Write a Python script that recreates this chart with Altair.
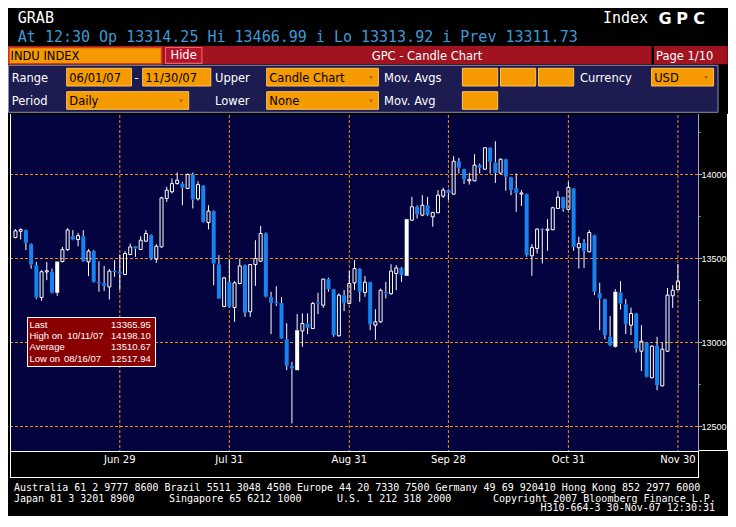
import altair as alt
import pandas as pd

# ---------------- data ----------------
opens = [13625, 13662, 13669, 13585, 13460, 13268, 13420, 13421, 13296, 13482,
         13553, 13633, 13613, 13633, 13480, 13544, 13361, 13353, 13331, 13427,
         13422, 13405, 13524, 13573, 13554, 13603, 13639, 13496, 13569, 13857,
         13897, 13946, 13946, 13917, 14000, 13855, 13933, 13714, 13782, 13466,
         13215, 13361, 13208, 13351, 13460, 13183, 13464, 13484, 13651, 13270,
         13240, 13234, 13020, 12861, 12835, 13069, 13113, 13083, 13238, 13222,
         13377, 13317, 13040, 13282, 13232, 13355, 13440, 13298, 13359, 13103,
         13123, 13300, 13290, 13411, 13444, 13397, 13728, 13808, 13758, 13817,
         13748, 13772, 13871, 13907, 13883, 14079, 14032, 13962, 13962, 14056,
         14032, 14159, 14071, 14008, 14091, 13984, 13919, 13884, 13883, 13516,
         13560, 13676, 13668, 13671, 13798, 13865, 13792, 13917, 13564, 13593,
         13540, 13639, 13294, 13258, 13034, 12974, 13298, 13228, 13103, 13173,
         12948, 13000, 12790, 12980, 12742, 12948, 13278, 13314]
highs = [13675, 13679, 13672, 13590, 13480, 13431, 13480, 13440, 13484, 13569,
         13680, 13669, 13653, 13669, 13556, 13550, 13484, 13456, 13437, 13490,
         13524, 13544, 13589, 13575, 13633, 13669, 13643, 13585, 13867, 13927,
         13976, 14012, 13956, 14006, 14012, 13960, 13937, 13817, 13786, 13520,
         13390, 13496, 13365, 13500, 13464, 13466, 13609, 13694, 13655, 13302,
         13335, 13270, 13115, 12885, 13169, 13173, 13173, 13242, 13296, 13381,
         13385, 13320, 13292, 13312, 13427, 13490, 13444, 13395, 13362, 13198,
         13321, 13361, 13466, 13460, 13450, 13736, 13867, 13817, 13877, 13867,
         13778, 13907, 13921, 13912, 14109, 14099, 14035, 14010, 14121, 14065,
         14163, 14162, 14198, 14095, 14094, 13987, 14006, 13907, 13886, 13585,
         13679, 13680, 13734, 13808, 13901, 13868, 13956, 13920, 13629, 13615,
         13669, 13642, 13355, 13261, 13157, 13317, 13365, 13258, 13208, 13176,
         13103, 13003, 12984, 13034, 13000, 13325, 13341, 13467]
lows = [13620, 13613, 13550, 13440, 13258, 13248, 13371, 13292, 13278, 13476,
        13545, 13609, 13573, 13480, 13395, 13357, 13302, 13307, 13256, 13391,
        13312, 13401, 13520, 13510, 13550, 13600, 13490, 13474, 13566, 13837,
        13887, 13940, 13817, 13913, 13798, 13845, 13714, 13673, 13341, 13258,
        13210, 13208, 13123, 13347, 13153, 13153, 13337, 13480, 13268, 13050,
        13218, 13020, 12835, 12518, 12835, 12974, 13050, 13080, 13169, 13206,
        13302, 13034, 13035, 13187, 13228, 13312, 13242, 13272, 13073, 13016,
        13118, 13262, 13285, 13312, 13361, 13397, 13726, 13738, 13752, 13752,
        13689, 13770, 13861, 13847, 13880, 14006, 13944, 13940, 13960, 14006,
        14028, 14006, 13950, 14004, 13903, 13877, 13778, 13813, 13510, 13397,
        13530, 13470, 13546, 13668, 13795, 13778, 13790, 13546, 13440, 13444,
        13537, 13282, 13073, 13020, 12978, 12970, 13196, 13050, 13044, 12940,
        12830, 12792, 12787, 12716, 12739, 12945, 13206, 13314]
closes = [13665, 13673, 13593, 13464, 13268, 13421, 13427, 13296, 13482, 13553,
          13670, 13613, 13636, 13484, 13544, 13361, 13353, 13337, 13425, 13420,
          13412, 13530, 13569, 13560, 13609, 13649, 13500, 13573, 13861, 13907,
          13946, 13966, 13921, 14000, 13851, 13940, 13718, 13782, 13470, 13262,
          13385, 13212, 13355, 13456, 13177, 13464, 13500, 13649, 13272, 13236,
          13233, 13024, 12861, 12845, 13073, 13113, 13087, 13232, 13232, 13377,
          13317, 13044, 13282, 13236, 13351, 13440, 13302, 13359, 13109, 13123,
          13311, 13292, 13425, 13444, 13401, 13734, 13808, 13764, 13817, 13758,
          13774, 13877, 13907, 13891, 14079, 14040, 13970, 13970, 14056, 14040,
          14159, 14075, 14010, 14091, 13986, 13907, 13891, 13890, 13520, 13565,
          13675, 13670, 13675, 13802, 13865, 13798, 13923, 13569, 13589, 13546,
          13655, 13302, 13262, 13044, 12984, 13302, 13232, 13109, 13173, 12964,
          13008, 12796, 12978, 12746, 12960, 13282, 13311, 13366]
solid_up = [8, 54, 75, 115]          # up days drawn as solid white bodies

tick_idx = [20, 41, 64, 83, 106, 127]  # trading-day index of the date ticks
tick_labels = ["Jun 29", "Jul 31", "Aug 31", "Sep 28", "Oct 31", "Nov 30"]
grid_prices = [12500, 13000, 13500, 14000]
minor_prices = [12750, 13250, 13750, 14250]

stats_labels = ["Last", "High on", "Average", "Low on"]
stats_dates = ["", "10/11/07", "", "08/16/07"]
stats_values = ["13365.95", "14198.10", "13510.67", "12517.94"]

quote_line = "At 12:30 Op 13314.25   Hi 13466.99 i Lo 13313.92 i Prev 13311.73"
footer_1 = "Australia 61 2 9777 8600 Brazil 5511 3048 4500  Europe 44 20 7330 7500  Germany 49 69 920410  Hong Kong 852 2977 6000"
footer_2 = ["Japan 81 3 3201 8900", "Singapore 65 6212 1000", "U.S. 1 212 318 2000",
            "Copyright 2007 Bloomberg Finance L.P."]
footer_3 = "H310-664-3 30-Nov-07 12:30:31"

# ---------------- layout / style ----------------
W, H = 720, 508
M = 8  # page margin


def X(v):
    return v - M


def Y(v):
    return v - M


NAVY_PLOT = "#03033F"
NAVY_PANEL = "#1C1C50"
ORANGE = "#F59B00"
GRID = "#F0900A"
RED_BAR = "#A1131F"
BLUE_TXT = "#3C9AD6"
BLUE_CANDLE = "#1683EE"
INFO_RED = "#8A0000"
SANS = "DejaVu Sans"
MONO = "DejaVu Sans Mono"

one = pd.DataFrame({"k": [0]})


def rect(x1, y1, x2, y2, fill, stroke=None, sw=1.0):
    kw = dict(fill=fill)
    if stroke:
        kw.update(stroke=stroke, strokeWidth=sw)
    return alt.Chart(one).mark_rect(**kw).encode(
        x=alt.value(X(x1)), x2=alt.value(X(x2)), y=alt.value(Y(y1)), y2=alt.value(Y(y2)))


def hline(x1, x2, y, color, sw=1.0):
    return alt.Chart(one).mark_rule(color=color, strokeWidth=sw).encode(
        x=alt.value(X(x1)), x2=alt.value(X(x2)), y=alt.value(Y(y)))


def vline(x, y1, y2, color, sw=1.0):
    return alt.Chart(one).mark_rule(color=color, strokeWidth=sw).encode(
        x=alt.value(X(x)), y=alt.value(Y(y1)), y2=alt.value(Y(y2)))


def text(s, x, y, size=11.5, color="white", align="left", font=SANS, weight="normal"):
    return alt.Chart(one).mark_text(align=align, baseline="alphabetic", font=font,
                                    fontSize=size, fontWeight=weight, color=color).encode(
        x=alt.value(X(x)), y=alt.value(Y(y)), text=alt.value(s))


def arrow(x, y):
    return alt.Chart(one).mark_point(shape="triangle-down", filled=True, size=14,
                                     color="#B0601E", opacity=1).encode(
        x=alt.value(X(x)), y=alt.value(Y(y)))


layers = []

# ---- header ----
layers += [
    text("GRAB", 17.8, 23, 15, "white", font=MONO),
    text("Index", 603, 23, 15, "white", font=MONO),
    text("G", 665, 24, 16, "white", "center", SANS, "bold"),
    text("P", 682, 24, 16, "white", "center", SANS, "bold"),
    text("C", 699, 24, 16, "white", "center", SANS, "bold"),
    text(quote_line, 17.8, 41.5, 15, BLUE_TXT, font=MONO),
]

# ---- red title bar ----
layers += [
    rect(8, 46, 651.6, 64.3, RED_BAR),
    rect(654, 46, 727.7, 64.3, RED_BAR),
    rect(9, 47.5, 161.5, 63.8, ORANGE, "#D4401C", 1.5),
    text("INDU INDEX", 10.5, 59.5, 11.5, "black"),
    rect(165.5, 47.5, 201.9, 63.3, "#B5152A", "#E8606A", 1.2),
    text("Hide", 183.6, 59, 11.5, "white", "center"),
    text("GPC - Candle Chart", 427, 59.5, 11.5, "white", "center"),
    text("Page 1/10", 656, 59.5, 11.5, "white"),
]

# ---- control panel ----
layers.append(rect(8.5, 65.3, 718, 112.3, NAVY_PANEL, "#8C8CB0", 1))
r1a, r1b, r1t = 68.3, 86, 81.8
r2a, r2b, r2t = 91.7, 109.3, 105.2
for s, x in [("Range", 11.7), ("-", 134.5), ("Upper", 215), ("Mov. Avgs", 384), ("Currency", 580)]:
    layers.append(text(s, x, r1t))
for s, x in [("Period", 11.7), ("Lower", 215), ("Mov. Avg", 384)]:
    layers.append(text(s, x, r2t))
boxes = [
    (66.7, 131.5, r1a, r1b, r1t, "06/01/07", False),
    (142.7, 210.8, r1a, r1b, r1t, "11/30/07", False),
    (266.7, 378.4, r1a, r1b, r1t, "Candle Chart", True),
    (462.4, 497.7, r1a, r1b, r1t, "", False),
    (500.5, 535.7, r1a, r1b, r1t, "", False),
    (538.5, 573.7, r1a, r1b, r1t, "", False),
    (651.6, 713.6, r1a, r1b, r1t, "USD", True),
    (66.7, 188.7, r2a, r2b, r2t, "Daily", True),
    (266.7, 378.4, r2a, r2b, r2t, "None", True),
    (462.4, 497.7, r2a, r2b, r2t, "", False),
]
for x1, x2, y1, y2, yt, s, arr in boxes:
    layers.append(rect(x1, y1, x2, y2, ORANGE, "#FFC25A", 1))
    if s:
        layers.append(text(s, x1 + 2.6, yt, 11.5, "black"))
    if arr:
        layers.append(arrow(x2 - 7.5, (y1 + y2) / 2 + 0.5))

# ---- plot panel ----
PX1, PX2, PY1, PY2 = 10, 698, 115, 451
layers.append(rect(PX1, PY1, PX2, PY2, NAVY_PLOT))

# scales: trading-day index on x, price on y (positioned to sit inside the panel)
XA, XB = -0.4745, 135.64
YHI = 14991.1
YLO = YHI - H / 0.168
xs = alt.Scale(domain=[XA, XB], nice=False, zero=False)
ys = alt.Scale(domain=[YLO, YHI], nice=False, zero=False)

ticks_df = pd.DataFrame({"idx": tick_idx, "label": tick_labels})
grid_df = pd.DataFrame({"price": grid_prices, "label": [str(p) for p in grid_prices]})
minor_df = pd.DataFrame({"price": minor_prices})

layers.append(alt.Chart(grid_df).mark_rule(color=GRID, strokeWidth=1, strokeDash=[3, 2]).encode(
    y=alt.Y("price:Q", scale=ys, axis=None), x=alt.value(X(PX1)), x2=alt.value(X(PX2))))
layers.append(alt.Chart(ticks_df).mark_rule(color=GRID, strokeWidth=1, strokeDash=[3, 2]).encode(
    x=alt.X("idx:Q", scale=xs, axis=None), y=alt.value(Y(PY1)), y2=alt.value(Y(PY2))))

# candles
n = len(opens)
kinds = []
for i in range(n):
    if i in solid_up:
        kinds.append("solid")
    elif closes[i] >= opens[i]:
        kinds.append("up")
    else:
        kinds.append("down")
df = pd.DataFrame({"i": list(range(n)), "o": opens, "h": highs, "l": lows, "c": closes, "kind": kinds})
df["top"] = df[["o", "c"]].max(axis=1)
df["bot"] = df[["o", "c"]].min(axis=1)

base = alt.Chart(df).encode(x=alt.X("i:Q", scale=xs, axis=None))
layers.append(base.mark_rule(color="white", strokeWidth=1).encode(
    y=alt.Y("h:Q", scale=ys, axis=None), y2="top:Q"))
layers.append(base.mark_rule(color="white", strokeWidth=1).encode(
    y=alt.Y("bot:Q", scale=ys, axis=None), y2="l:Q"))
layers.append(base.transform_filter("datum.kind == 'down'").mark_bar(
    size=4, color=BLUE_CANDLE, orient="vertical").encode(
    y=alt.Y("o:Q", scale=ys, axis=None), y2="c:Q"))
layers.append(base.transform_filter("datum.kind == 'solid'").mark_bar(
    size=4, color="white", orient="vertical").encode(
    y=alt.Y("o:Q", scale=ys, axis=None), y2="c:Q"))
layers.append(base.transform_filter("datum.kind == 'up'").mark_bar(
    size=3, fill="transparent", stroke="white", strokeWidth=1, orient="vertical").encode(
    y=alt.Y("o:Q", scale=ys, axis=None), y2="c:Q"))

# frame, axes strips
layers += [
    rect(0, PY1 - 1, PX1, 480, "black"),
    vline(10.5, PY1 - 1, 478, "white"),
    vline(727.5, PY1 - 1, 451, "white"),
    hline(698, 728, 450.5, "white"),
    hline(10, 698, 451.5, "white"),
    vline(698.5, 451, 478, "white"),
    hline(10, 699, 477.5, "white"),
    vline(698.5, PY1 - 1, 451, "#A8A8A8"),
]
layers.append(alt.Chart(grid_df).mark_rule(color="#A8A8A8", strokeWidth=1).encode(
    y=alt.Y("price:Q", scale=ys, axis=None), x=alt.value(X(698)), x2=alt.value(X(702))))
layers.append(alt.Chart(minor_df).mark_rule(color="#A8A8A8", strokeWidth=1).encode(
    y=alt.Y("price:Q", scale=ys, axis=None), x=alt.value(X(698)), x2=alt.value(X(700.5))))
layers.append(alt.Chart(grid_df).mark_text(align="left", baseline="middle", font="Liberation Sans",
                                           fontSize=9, color="white").encode(
    y=alt.Y("price:Q", scale=ys, axis=None), x=alt.value(X(701.5)), text="label:N"))
layers.append(alt.Chart(ticks_df).mark_text(align="center", baseline="alphabetic", font=SANS,
                                            fontSize=10, color="white").encode(
    x=alt.X("idx:Q", scale=xs, axis=None), y=alt.value(Y(462.5)), text="label:N"))

# info box
layers.append(rect(27.5, 317.5, 155.5, 366.5, INFO_RED, "white", 1))
row_y = [328, 339.2, 350.4, 361.5]
for k in range(4):
    layers.append(text(stats_labels[k], 29.5, row_y[k], 9.5, "white", font="Liberation Sans"))
    if stats_dates[k]:
        dx = 67.3 if k == 1 else 64
        layers.append(text(stats_dates[k], dx, row_y[k], 9.5, "white", font="Liberation Sans"))
    layers.append(text(stats_values[k], 150.7, row_y[k], 9.5, "white", "right", "Liberation Sans"))

# footer
layers.append(text(footer_1, 14, 491, 10, "white", font=MONO))
for s, x in zip(footer_2, [14, 169, 337, 493]):
    layers.append(text(s, x, 501.5, 10, "white", font=MONO))
layers.append(text(footer_3, 715, 511, 10, "white", "right", MONO))

chart = alt.layer(*layers).properties(
    width=W, height=H, background="black", padding=0,
    autosize=alt.AutoSizeParams(type="none"),
).configure_view(strokeWidth=0)

chart.save("out.html", embed_options={"renderer": "svg", "actions": False})
